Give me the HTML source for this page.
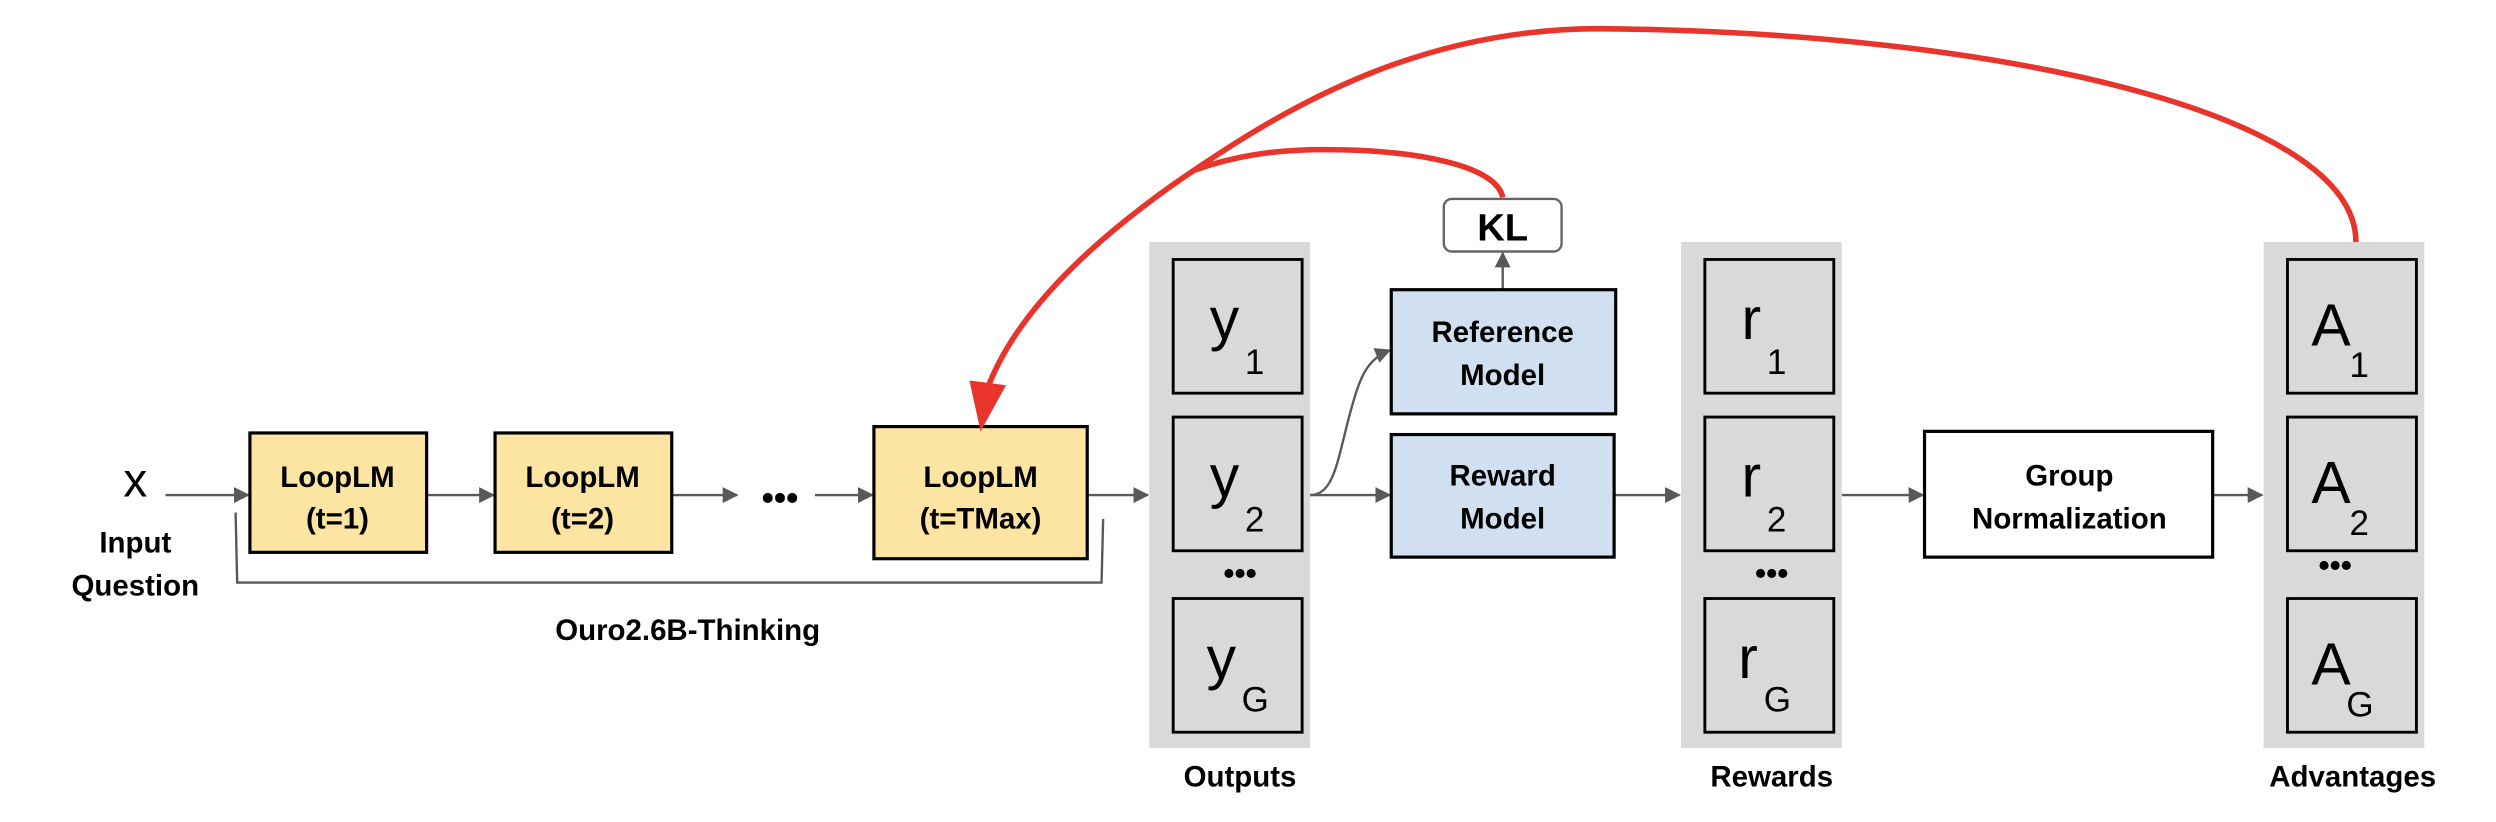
<!DOCTYPE html>
<html><head><meta charset="utf-8"><style>
html,body{margin:0;padding:0;background:#fff;}
svg{display:block;}
text{font-family:"Liberation Sans",Arial,sans-serif;}
.b{font-weight:bold;font-size:18.5px;text-anchor:middle;}
.v{font-size:37px;}
.s{font-size:22px;}
</style></head><body>
<svg width="2496" height="822" viewBox="0 0 1568 516.4" preserveAspectRatio="none" xmlns="http://www.w3.org/2000/svg">
<defs>
<marker id="ga" markerWidth="10" markerHeight="10" refX="9" refY="5" orient="auto" markerUnits="userSpaceOnUse"><path d="M0,0 L10,5 L0,10 Z" fill="#595959"/></marker>
</defs>
<g stroke="#595959" stroke-width="1.5" fill="none" marker-end="url(#ga)">
<line x1="104" y1="311" x2="156" y2="311"/>
<line x1="268" y1="311" x2="310" y2="311"/>
<line x1="422" y1="311" x2="463" y2="311"/>
<line x1="512" y1="311" x2="548" y2="311"/>
<line x1="683" y1="311" x2="721" y2="311"/>
<line x1="823" y1="311" x2="873" y2="311"/>
<path d="M823,311 C838,311 840,290 848,260 C854,238 858,226 873,220"/>
<line x1="944" y1="182" x2="944" y2="159"/>
<line x1="1014" y1="311" x2="1055" y2="311"/>
<line x1="1157" y1="311" x2="1208" y2="311"/>
<line x1="1390" y1="311" x2="1421" y2="311"/>
</g>
<path d="M148,322 L149,366 L692,366 L693,326" stroke="#595959" stroke-width="1.5" fill="none"/>
<text x="85" y="312" text-anchor="middle" style="font-size:30px">x</text>
<text x="85" y="347" class="b">Input</text>
<text x="85" y="374" class="b">Question</text>
<g stroke="#000" stroke-width="2" fill="#fce5a3">
<rect x="157" y="272" width="111" height="75"/>
<rect x="311" y="272" width="111" height="75"/>
<rect x="549" y="268" width="134" height="83"/>
</g>
<text x="212" y="306" class="b">LoopLM</text><text x="212" y="332" class="b">(t=1)</text>
<text x="366" y="306" class="b">LoopLM</text><text x="366" y="332" class="b">(t=2)</text>
<text x="616" y="306" class="b">LoopLM</text><text x="616" y="332" class="b">(t=TMax)</text>
<text x="490" y="320" class="b" style="font-size:22px">•••</text>
<text x="432" y="402" class="b">Ouro2.6B-Thinking</text>
<g fill="#d9d9d9">
<rect x="722" y="152" width="101" height="318"/>
<rect x="1056" y="152" width="101" height="318"/>
<rect x="1422" y="152" width="101" height="318"/>
</g>
<g stroke="#000" stroke-width="1.8" fill="#d9d9d9">
<rect x="737" y="163" width="81" height="84"/><rect x="737" y="262" width="81" height="84"/><rect x="737" y="376" width="81" height="84"/>
<rect x="1071" y="163" width="81" height="84"/><rect x="1071" y="262" width="81" height="84"/><rect x="1071" y="376" width="81" height="84"/>
<rect x="1437" y="163" width="81" height="84"/><rect x="1437" y="262" width="81" height="84"/><rect x="1437" y="376" width="81" height="84"/>
</g>
<g>
<text x="760" y="213" class="v">y</text><text x="782" y="235" class="s">1</text>
<text x="760" y="312" class="v">y</text><text x="782" y="334" class="s">2</text>
<text x="758" y="426" class="v">y</text><text x="780" y="447" class="s">G</text>
<text x="1094" y="213" class="v">r</text><text x="1110" y="235" class="s">1</text>
<text x="1094" y="312" class="v">r</text><text x="1110" y="334" class="s">2</text>
<text x="1092" y="426" class="v">r</text><text x="1108" y="447" class="s">G</text>
<text x="1452" y="217" class="v">A</text><text x="1476" y="237" class="s">1</text>
<text x="1452" y="316" class="v">A</text><text x="1476" y="336" class="s">2</text>
<text x="1452" y="430" class="v">A</text><text x="1474" y="450" class="s">G</text>
</g>
<text x="779" y="367" class="b" style="font-size:20px">•••</text>
<text x="1113" y="367" class="b" style="font-size:20px">•••</text>
<text x="1467" y="362" class="b" style="font-size:20px">•••</text>
<text x="779" y="494" class="b">Outputs</text>
<text x="1113" y="494" class="b">Rewards</text>
<text x="1478" y="494" class="b">Advantages</text>
<g stroke="#000" stroke-width="2" fill="#d0e0f0">
<rect x="874" y="182" width="141" height="78"/>
<rect x="874" y="273" width="140" height="77"/>
</g>
<text x="944" y="215" class="b">Reference</text><text x="944" y="242" class="b">Model</text>
<text x="944" y="305" class="b">Reward</text><text x="944" y="332" class="b">Model</text>
<rect x="907" y="125" width="74" height="33" rx="5" fill="#fff" stroke="#666" stroke-width="1.5"/>
<text x="944" y="151" class="b" style="font-size:24px">KL</text>
<rect x="1209" y="271" width="181" height="79" fill="#fff" stroke="#000" stroke-width="2"/>
<text x="1300" y="305" class="b">Group</text><text x="1300" y="332" class="b">Normalization</text>
<g stroke="#e8342a" stroke-width="3.5" fill="none">
<path d="M1480,152 C1480,70 1250,20 1005,18 C900,18 820,60 756,103 C700,140 640,190 620,245"/>
<path d="M944,124 C940,104 890,94 832,94 C800,94 775,98 750,107"/>
</g>
<path d="M609,239 L632,242 L616,271 Z" fill="#e8342a"/>
</svg>
</body></html>
